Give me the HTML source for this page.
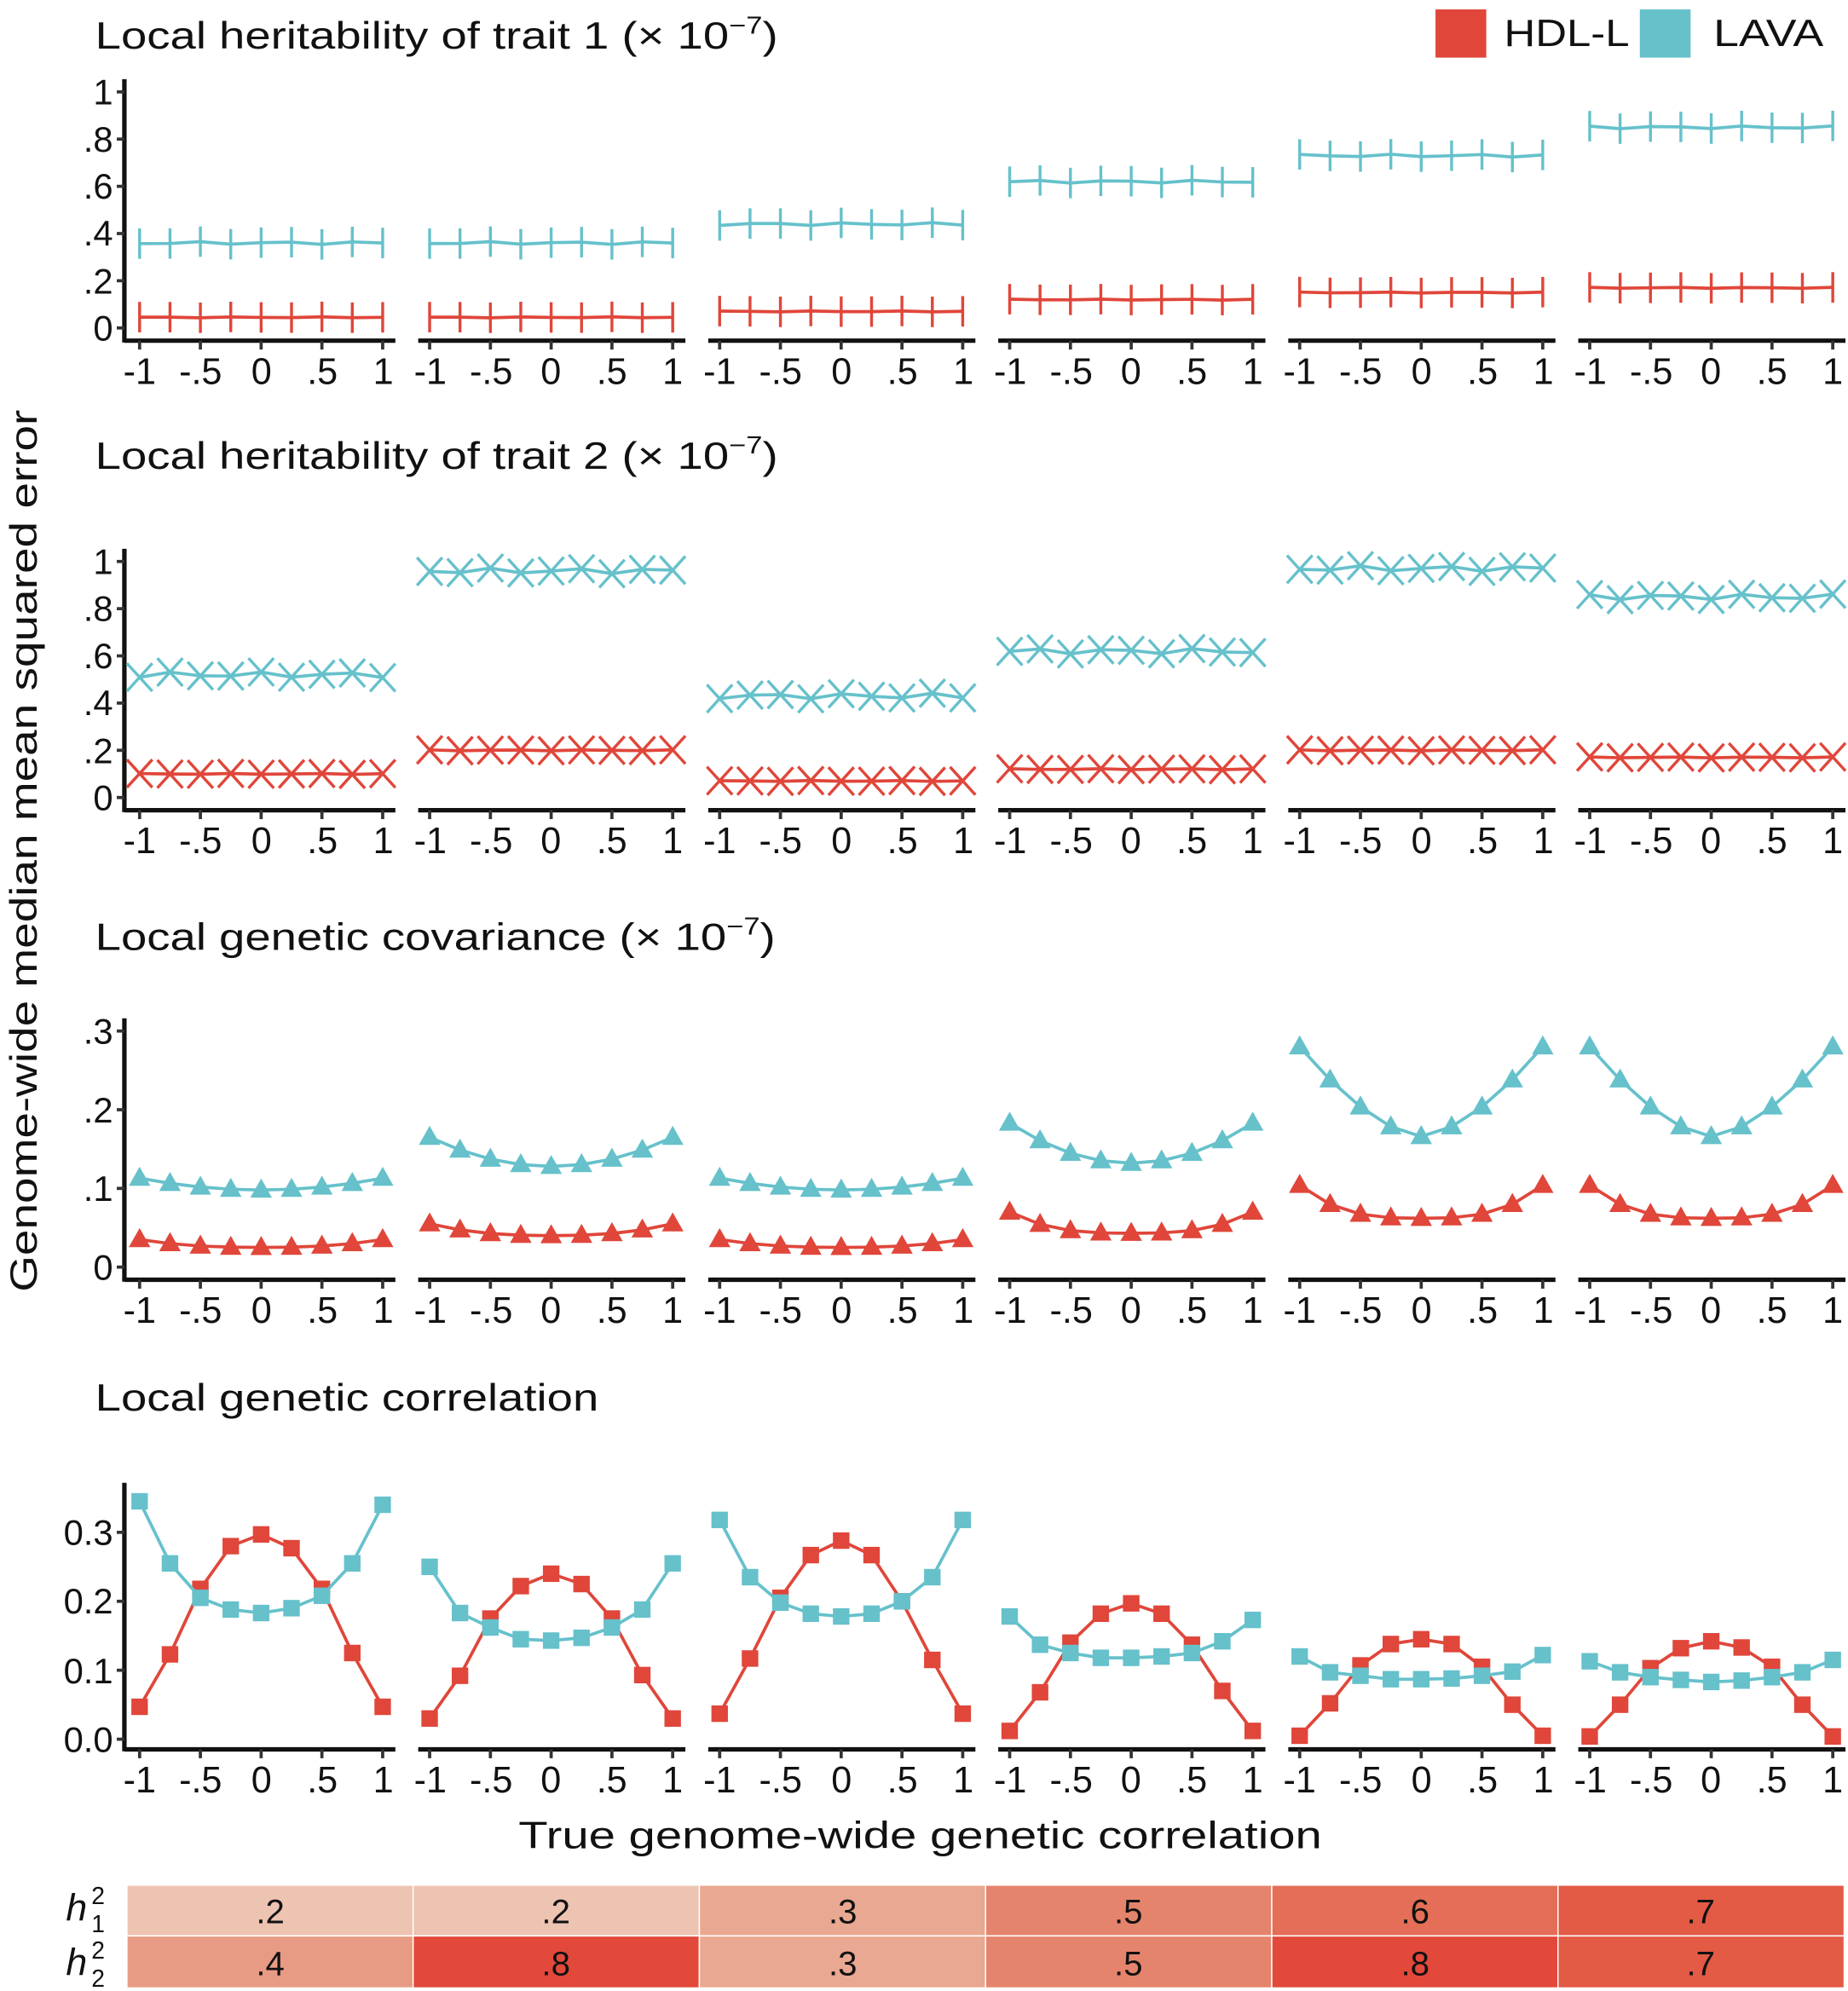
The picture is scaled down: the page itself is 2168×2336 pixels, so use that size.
<!DOCTYPE html>
<html><head><meta charset="utf-8">
<style>
html,body{margin:0;padding:0;background:#fff;}
svg{display:block;}
text{font-family:"Liberation Sans",sans-serif;fill:#111;}
.t{font-size:30px;}
.tk{font-size:29px;text-anchor:middle;}
.yl{font-size:28px;text-anchor:end;}
.hm{font-size:27px;text-anchor:middle;}
</style></head><body>
<svg id="s" width="2168" height="2336" viewBox="0 0 1456 1568" xmlns="http://www.w3.org/2000/svg">
<rect width="1456" height="1568" fill="#fff"/>
<g id="plot"></g>
<!-- titles -->
<text class="t" transform="translate(75,38) scale(1.22,1)">Local heritability of trait 1 (× 10<tspan dy="-12" font-size="19">−7</tspan><tspan dy="12">)</tspan></text>
<text class="t" transform="translate(75,369) scale(1.22,1)">Local heritability of trait 2 (× 10<tspan dy="-12" font-size="19">−7</tspan><tspan dy="12">)</tspan></text>
<text class="t" transform="translate(75,748) scale(1.22,1)">Local genetic covariance (× 10<tspan dy="-12" font-size="19">−7</tspan><tspan dy="12">)</tspan></text>
<text class="t" transform="translate(75,1111) scale(1.22,1)">Local genetic correlation</text>
<!-- legend -->
<rect x="1131" y="7" width="40" height="38" fill="#e0463a"/>
<text class="t" transform="translate(1185,36) scale(1.14,1)">HDL-L</text>
<rect x="1292" y="7" width="40" height="38" fill="#66c1cb"/>
<text class="t" transform="translate(1350,36) scale(1.2,1)">LAVA</text>
<!-- y label -->
<text class="t" transform="translate(29,670) rotate(-90) scale(1.23,1)" text-anchor="middle">Genome-wide median mean squared error</text>
<!-- y tick labels -->
<text class="yl" x="89" y="82">1</text><text class="yl" x="89" y="119">.8</text><text class="yl" x="89" y="156">.6</text><text class="yl" x="89" y="193">.4</text><text class="yl" x="89" y="231">.2</text><text class="yl" x="89" y="268">0</text>
<text class="yl" x="89" y="452">1</text><text class="yl" x="89" y="489">.8</text><text class="yl" x="89" y="526">.6</text><text class="yl" x="89" y="563">.4</text><text class="yl" x="89" y="601">.2</text><text class="yl" x="89" y="638">0</text>
<text class="yl" x="89" y="822">.3</text><text class="yl" x="89" y="884">.2</text><text class="yl" x="89" y="946">.1</text><text class="yl" x="89" y="1008">0</text>
<text class="yl" x="89" y="1217">0.3</text><text class="yl" x="89" y="1271">0.2</text><text class="yl" x="89" y="1326">0.1</text><text class="yl" x="89" y="1380">0.0</text>
<!-- x tick labels rows -->
<g id="xl">
<g transform="translate(0,302)"><text class="tk" x="110">-1</text><text class="tk" x="158">-.5</text><text class="tk" x="206">0</text><text class="tk" x="254">.5</text><text class="tk" x="302">1</text><text class="tk" x="339">-1</text><text class="tk" x="387">-.5</text><text class="tk" x="434">0</text><text class="tk" x="482">.5</text><text class="tk" x="530">1</text><text class="tk" x="567">-1</text><text class="tk" x="615">-.5</text><text class="tk" x="663">0</text><text class="tk" x="711">.5</text><text class="tk" x="759">1</text><text class="tk" x="796">-1</text><text class="tk" x="844">-.5</text><text class="tk" x="891">0</text><text class="tk" x="939">.5</text><text class="tk" x="987">1</text><text class="tk" x="1024">-1</text><text class="tk" x="1072">-.5</text><text class="tk" x="1120">0</text><text class="tk" x="1168">.5</text><text class="tk" x="1216">1</text><text class="tk" x="1253">-1</text><text class="tk" x="1301">-.5</text><text class="tk" x="1348">0</text><text class="tk" x="1396">.5</text><text class="tk" x="1444">1</text></g>
<g transform="translate(0,672)"><text class="tk" x="110">-1</text><text class="tk" x="158">-.5</text><text class="tk" x="206">0</text><text class="tk" x="254">.5</text><text class="tk" x="302">1</text><text class="tk" x="339">-1</text><text class="tk" x="387">-.5</text><text class="tk" x="434">0</text><text class="tk" x="482">.5</text><text class="tk" x="530">1</text><text class="tk" x="567">-1</text><text class="tk" x="615">-.5</text><text class="tk" x="663">0</text><text class="tk" x="711">.5</text><text class="tk" x="759">1</text><text class="tk" x="796">-1</text><text class="tk" x="844">-.5</text><text class="tk" x="891">0</text><text class="tk" x="939">.5</text><text class="tk" x="987">1</text><text class="tk" x="1024">-1</text><text class="tk" x="1072">-.5</text><text class="tk" x="1120">0</text><text class="tk" x="1168">.5</text><text class="tk" x="1216">1</text><text class="tk" x="1253">-1</text><text class="tk" x="1301">-.5</text><text class="tk" x="1348">0</text><text class="tk" x="1396">.5</text><text class="tk" x="1444">1</text></g>
<g transform="translate(0,1042)"><text class="tk" x="110">-1</text><text class="tk" x="158">-.5</text><text class="tk" x="206">0</text><text class="tk" x="254">.5</text><text class="tk" x="302">1</text><text class="tk" x="339">-1</text><text class="tk" x="387">-.5</text><text class="tk" x="434">0</text><text class="tk" x="482">.5</text><text class="tk" x="530">1</text><text class="tk" x="567">-1</text><text class="tk" x="615">-.5</text><text class="tk" x="663">0</text><text class="tk" x="711">.5</text><text class="tk" x="759">1</text><text class="tk" x="796">-1</text><text class="tk" x="844">-.5</text><text class="tk" x="891">0</text><text class="tk" x="939">.5</text><text class="tk" x="987">1</text><text class="tk" x="1024">-1</text><text class="tk" x="1072">-.5</text><text class="tk" x="1120">0</text><text class="tk" x="1168">.5</text><text class="tk" x="1216">1</text><text class="tk" x="1253">-1</text><text class="tk" x="1301">-.5</text><text class="tk" x="1348">0</text><text class="tk" x="1396">.5</text><text class="tk" x="1444">1</text></g>
<g transform="translate(0,1412)"><text class="tk" x="110">-1</text><text class="tk" x="158">-.5</text><text class="tk" x="206">0</text><text class="tk" x="254">.5</text><text class="tk" x="302">1</text><text class="tk" x="339">-1</text><text class="tk" x="387">-.5</text><text class="tk" x="434">0</text><text class="tk" x="482">.5</text><text class="tk" x="530">1</text><text class="tk" x="567">-1</text><text class="tk" x="615">-.5</text><text class="tk" x="663">0</text><text class="tk" x="711">.5</text><text class="tk" x="759">1</text><text class="tk" x="796">-1</text><text class="tk" x="844">-.5</text><text class="tk" x="891">0</text><text class="tk" x="939">.5</text><text class="tk" x="987">1</text><text class="tk" x="1024">-1</text><text class="tk" x="1072">-.5</text><text class="tk" x="1120">0</text><text class="tk" x="1168">.5</text><text class="tk" x="1216">1</text><text class="tk" x="1253">-1</text><text class="tk" x="1301">-.5</text><text class="tk" x="1348">0</text><text class="tk" x="1396">.5</text><text class="tk" x="1444">1</text></g>
</g>
<text class="t" transform="translate(725,1456) scale(1.26,1)" text-anchor="middle">True genome-wide genetic correlation</text>
<!-- heatmap -->
<g stroke="#fff" stroke-width="1">
<rect x="100" y="1485" width="225.5" height="40" fill="#edc3b2"/>
<rect x="325.5" y="1485" width="225.5" height="40" fill="#edc3b2"/>
<rect x="551" y="1485" width="225.5" height="40" fill="#e9a891"/>
<rect x="776.5" y="1485" width="225.5" height="40" fill="#e5846c"/>
<rect x="1002" y="1485" width="225.5" height="40" fill="#e46e57"/>
<rect x="1227.5" y="1485" width="225.5" height="40" fill="#e35a45"/>
<rect x="100" y="1525" width="225.5" height="41" fill="#e89b84"/>
<rect x="325.5" y="1525" width="225.5" height="41" fill="#e2493a"/>
<rect x="551" y="1525" width="225.5" height="41" fill="#e9a891"/>
<rect x="776.5" y="1525" width="225.5" height="41" fill="#e5846c"/>
<rect x="1002" y="1525" width="225.5" height="41" fill="#e2493a"/>
<rect x="1227.5" y="1525" width="225.5" height="41" fill="#e35a45"/>
</g>
<text class="hm" x="213" y="1515">.2</text><text class="hm" x="438" y="1515">.2</text><text class="hm" x="664" y="1515">.3</text><text class="hm" x="889" y="1515">.5</text><text class="hm" x="1115" y="1515">.6</text><text class="hm" x="1340" y="1515">.7</text>
<text class="hm" x="213" y="1556">.4</text><text class="hm" x="438" y="1556">.8</text><text class="hm" x="664" y="1556">.3</text><text class="hm" x="889" y="1556">.5</text><text class="hm" x="1115" y="1556">.8</text><text class="hm" x="1340" y="1556">.7</text>
<text x="52" y="1513" font-size="30" font-style="italic">h</text><text x="72" y="1500" font-size="19">2</text><text x="72" y="1522" font-size="19">1</text>
<text x="52" y="1556" font-size="30" font-style="italic">h</text><text x="72" y="1543" font-size="19">2</text><text x="72" y="1565" font-size="19">2</text>
</svg>
<script>
(function(){
var NS="http://www.w3.org/2000/svg",g=document.getElementById("plot");
function el(n,a){var e=document.createElementNS(NS,n);for(var k in a)e.setAttribute(k,a[k]);g.appendChild(e);return e;}
var R="#e0463a",B="#66c1cb";
function X(p,v){return 110+p*228.5+(v+1)*95.75;}
var xs=[-1,-.75,-.5,-.25,0,.25,.5,.75,1];
var rows=[
 {ax:268,z:258,s:186,top:62,yt:[0,.2,.4,.6,.8,1]},
 {ax:638,z:628,s:186,top:432,yt:[0,.2,.4,.6,.8,1]},
 {ax:1008,z:998,s:620,top:802,yt:[0,.1,.2,.3]},
 {ax:1378,z:1370,s:543.3,top:1168,yt:[0,.1,.2,.3]}];
function flat(v,j){var a=[];for(var i=0;i<9;i++)a.push(v+j*Math.sin(i*2.3+v*10));return a;}
function U(mn,en,p){return xs.map(function(x){return mn+(en-mn)*Math.pow(Math.abs(x),p);});}
var data=[
 {t:[.36,.36,.44,.62,.73,.85].map(function(v){return flat(v,.006);}),r:[.045,.045,.07,.12,.15,.17].map(function(v){return flat(v,.002);}),m:"+"},
 {t:[.52,.96,.43,.62,.97,.85].map(function(v){return flat(v,.012);}),r:[.10,.20,.07,.12,.20,.17].map(function(v){return flat(v,.002);}),m:"x"},
 {t:[U(.098,.113,2),U(.128,.165,2),U(.098,.113,2),U(.132,.183,2),U(.166,.28,1.6),U(.166,.28,1.6)],
  r:[U(.025,.035,2.5),U(.04,.055,2.5),U(.025,.035,2.5),U(.043,.07,3),U(.062,.104,3),U(.062,.104,3)],m:"^"},
 {t:[[.345,.255,.205,.188,.183,.19,.208,.255,.34],[.25,.183,.162,.145,.143,.147,.162,.188,.255],[.318,.235,.198,.182,.178,.182,.2,.235,.318],[.178,.137,.125,.118,.118,.12,.125,.142,.173],[.12,.097,.092,.087,.087,.088,.092,.098,.122],[.113,.097,.09,.086,.083,.085,.09,.097,.115]],
  r:[[.047,.123,.218,.28,.297,.277,.218,.125,.047],[.03,.092,.175,.222,.24,.225,.175,.093,.03],[.037,.117,.205,.267,.288,.267,.2,.115,.037],[.012,.068,.14,.182,.197,.182,.137,.07,.012],[.005,.052,.107,.138,.145,.138,.105,.05,.005],[.004,.05,.103,.132,.142,.133,.105,.05,.004]],m:"s"}];
rows.forEach(function(r,ri){
 el("line",{x1:98,y1:r.top,x2:98,y2:r.ax+1.5,stroke:"#111","stroke-width":3.5});
 r.yt.forEach(function(v){var y=r.z-v*r.s;el("line",{x1:92,y1:y,x2:98,y2:y,stroke:"#333","stroke-width":2.5});});
 for(var p=0;p<6;p++){
  var x0=p==0?98:X(p,-1)-9;
  el("line",{x1:x0,y1:r.ax,x2:X(p,1)+10,y2:r.ax,stroke:"#111","stroke-width":3.5});
  [-1,-.5,0,.5,1].forEach(function(v){el("line",{x1:X(p,v),y1:r.ax,x2:X(p,v),y2:r.ax+7,stroke:"#333","stroke-width":2.5});});
  var d=data[ri];
  [[d.r[p],R],[d.t[p],B]].forEach(function(sc){
   var vals=sc[0],c=sc[1],pts=vals.map(function(v,i){return [X(p,xs[i]),r.z-v*r.s];});
   el("polyline",{points:pts.map(function(q){return q.join(",");}).join(" "),fill:"none",stroke:c,"stroke-width":2.5});
   pts.forEach(function(q){var x=q[0],y=q[1];
    if(d.m=="+")el("line",{x1:x,y1:y-12,x2:x,y2:y+12,stroke:c,"stroke-width":2.3});
    else if(d.m=="x")el("path",{d:"M"+(x-10)+","+(y-11)+"L"+(x+10)+","+(y+11)+"M"+(x-10)+","+(y+11)+"L"+(x+10)+","+(y-11),stroke:c,"stroke-width":2.3,fill:"none"});
    else if(d.m=="^")el("path",{d:"M"+x+","+(y-9)+"L"+(x+8.5)+","+(y+6)+"L"+(x-8.5)+","+(y+6)+"Z",fill:c});
    else el("rect",{x:x-6.5,y:y-6.5,width:13,height:13,fill:c});
   });
  });
 }
});
})();
</script>
</body></html>
